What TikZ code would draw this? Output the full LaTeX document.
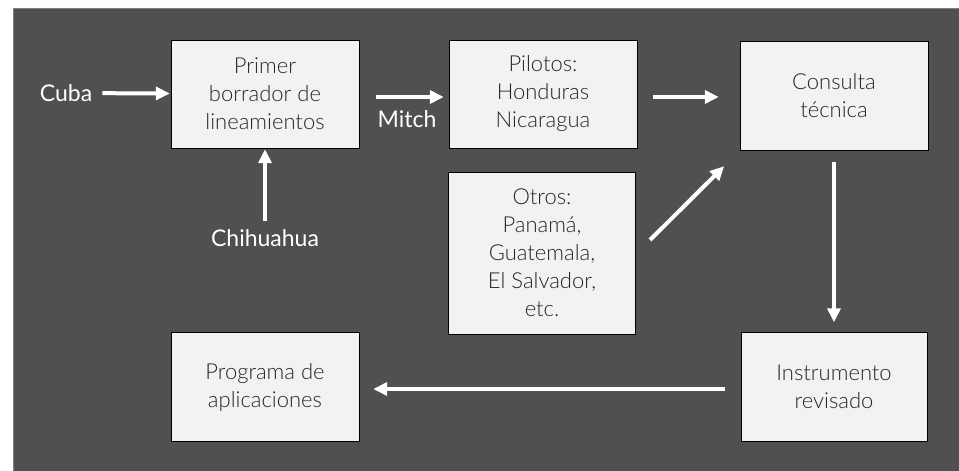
\documentclass[tikz,border=0pt]{standalone}
\usepackage{fontspec}
\setmainfont{Lato Light}
\newfontfamily\labelfont{Lato}
\usetikzlibrary{arrows.meta}
\definecolor{panelGray}{RGB}{80,80,80}
\definecolor{boxGray}{RGB}{242,242,242}
\begin{document}
\begin{tikzpicture}
[x=1pt,y=-1pt,
 boxDecorate/.style={shape=rectangle,draw=black,fill=boxGray,align=center,inner sep=0pt,
   font=\fontsize{22}{28}\selectfont,text=black!85},
 labelDecorate/.style={text=white,inner sep=0pt,font=\labelfont\fontsize{23}{28}\selectfont},
 lineDecorate/.style={-{Triangle[length=14pt,width=13pt]},line width=4pt,white}]
%% background
\useasboundingbox (0,0) rectangle (959,471);
\fill[white] (0,0) rectangle (959,471);
\draw[fill=panelGray,draw=gray] (13,8) rectangle (960,472);
%% boxes
\foreach \nodename/\x/\y/\w/\h/\txt in {
  first/265/94/188/108/{Primer\\borrador de\\lineamientos},
  pilots/543/94/188/108/{Pilotos:\\Honduras\\Nicaragua},
  consult/834/96/188/109/{Consulta\\técnica},
  others/542/253/187/162/{Otros:\\Panamá,\\Guatemala,\\El Salvador,\\etc.},
  revised/834/387/186/109/{Instrumento\\revisado},
  program/265/387/188/109/{Programa de\\aplicaciones}} {
  \node (\nodename) at (\x,\y) [boxDecorate,minimum width=\w pt,minimum height=\h pt] {\txt};
}
%% labels
\node (cuba) at (66,93) [labelDecorate] {Cuba};
\node (mitch) at (407,119) [labelDecorate] {Mitch};
\node (chihuahua) at (265,238) [labelDecorate] {Chihuahua};
\coordinate (othersOut) at (650,240);
%% arrows
\draw[lineDecorate,shorten <=10pt,shorten >=1pt] (cuba) -- (first);
\draw[lineDecorate,shorten <=17pt,shorten >=5pt] ([yshift=-3pt]first.east) -- ([yshift=-3pt]pilots.west);
\draw[lineDecorate,shorten <=8pt,shorten >=1pt] (chihuahua) -- (first);
\draw[lineDecorate,shorten <=16pt,shorten >=21pt] ([yshift=-3pt]pilots.east) -- ([yshift=-1pt]consult.west);
\draw[lineDecorate,shorten >=22pt] (othersOut) -- (consult.south west);
\draw[lineDecorate,shorten <=11pt,shorten >=10pt] (consult) -- (revised);
\draw[lineDecorate,shorten <=16pt,shorten >=14pt] ([yshift=-2pt]revised.west) -- ([yshift=-2pt]program.east);
\end{tikzpicture}
\end{document}
